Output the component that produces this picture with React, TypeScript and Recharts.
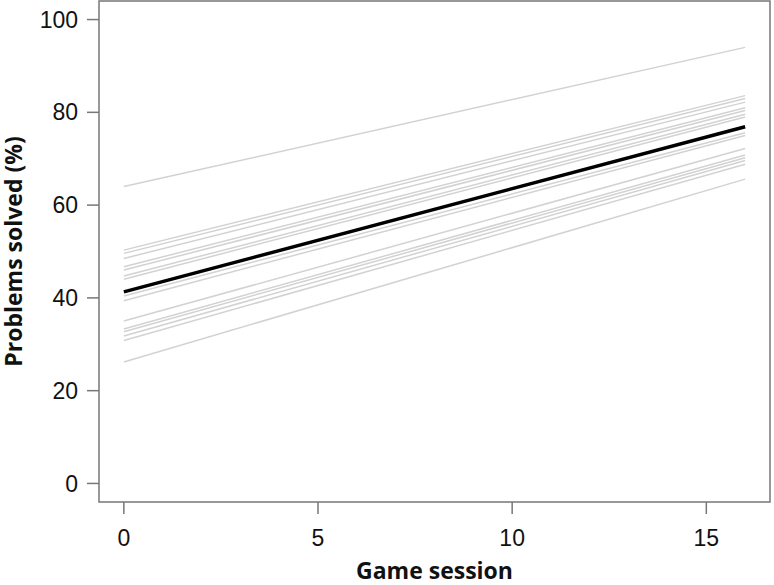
import React from "react";
import {
  LineChart, Line, XAxis, YAxis, ReferenceArea, Label,
} from "recharts";

// game sessions at which the fitted lines are evaluated
const sessions = [0, 16];
const xTicks = [0, 5, 10, 15];
const yTicks = [0, 20, 40, 60, 80, 100];

// individual fitted lines (percent solved at session 0 and 16)
const individualStart = [64, 50.3, 49.6, 48.5, 46.7, 46.0, 44.7, 44.0, 40.4, 39.4, 35.0, 33.3, 32.7, 31.8, 30.8, 26.2];
const individualEnd = [94, 83.6, 83.0, 82.2, 81.0, 80.4, 79.6, 79.0, 75.6, 75.0, 72.2, 70.8, 70.2, 69.6, 68.8, 65.6];

// group-level fitted line
const meanLine = [41.3, 76.9];

const toPoints = (vals: number[]) => sessions.map((s, i) => ({ session: s, solved: vals[i] }));

const tickFont = { fontSize: 23, fill: "#111", fontFamily: "Liberation Sans, Arial, sans-serif" };
const titleFont = { fontSize: 23, fontWeight: 700, fill: "#111", fontFamily: "Open Sans, sans-serif" };

export default function App() {
  return (
    <div style={{ width: 774, height: 585, background: "#fff" }}>
      <style>{"body{margin:0}"}</style>
      <LineChart width={774} height={585} margin={{ top: 1, right: 4, bottom: 0, left: 0 }}>
        <XAxis
          type="number"
          dataKey="session"
          domain={[-0.64, 16.64]}
          ticks={xTicks}
          allowDataOverflow
          tick={tickFont}
          tickSize={12}
          tickMargin={16}
          axisLine={false}
          tickLine={{ stroke: "#777", strokeWidth: 1.5 }}
          height={83}
        >
          <Label value="Game session" position="insideBottom" offset={6} style={titleFont} />
        </XAxis>
        <YAxis
          type="number"
          domain={[-4, 104]}
          ticks={yTicks}
          allowDataOverflow
          tick={tickFont}
          tickSize={12}
          tickMargin={9}
          axisLine={false}
          tickLine={{ stroke: "#777", strokeWidth: 1.5 }}
          width={99}
        >
          <Label value="Problems solved (%)" angle={-90} position="insideLeft" offset={14} style={{ ...titleFont, textAnchor: "middle" }} />
        </YAxis>
        <ReferenceArea x1={-0.64} x2={16.64} y1={-4} y2={104} fill="none" stroke="#777" strokeWidth={1.5} ifOverflow="visible" />
        {individualStart.map((v, i) => (
          <Line
            key={i}
            data={toPoints([v, individualEnd[i]])}
            dataKey="solved"
            type="linear"
            stroke="#d2d2d2"
            strokeWidth={1.5}
            dot={false}
            isAnimationActive={false}
          />
        ))}
        <Line
          data={toPoints(meanLine)}
          dataKey="solved"
          type="linear"
          stroke="#000"
          strokeWidth={3.5}
          dot={false}
          isAnimationActive={false}
        />
      </LineChart>
    </div>
  );
}
